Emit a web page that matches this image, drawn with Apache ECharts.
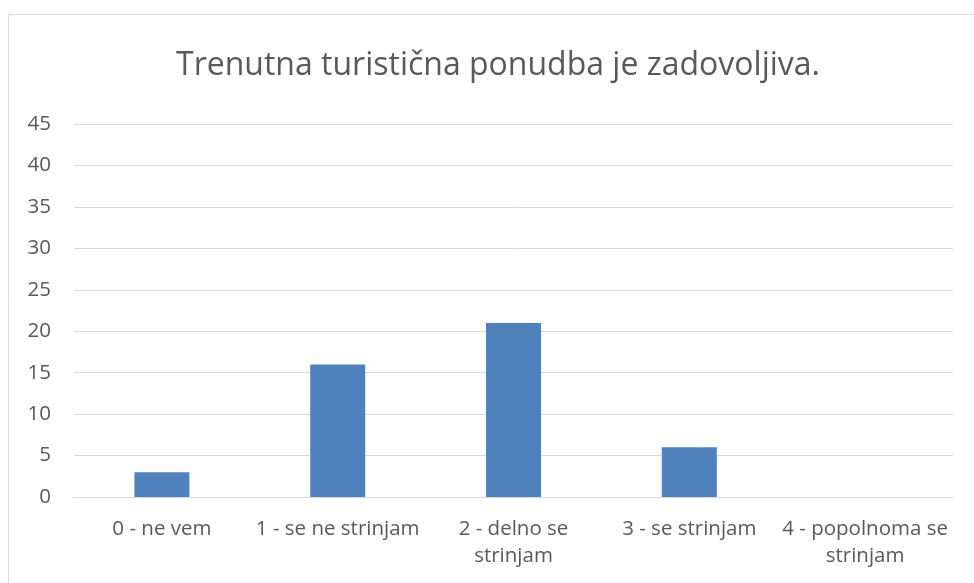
<!DOCTYPE html>
<html>
<head>
<meta charset="utf-8">
<script src="https://cdn.jsdelivr.net/npm/echarts@6/dist/echarts.min.js"></script>
<style>html,body{margin:0;padding:0;background:#fff}#c{width:974px;height:583px}</style>
</head>
<body>
<div id="c"></div>
<script>
const titleText = 'Trenutna turistična ponudba je zadovoljiva.';
const categories = ['0 - ne vem', '1 - se ne strinjam', '2 - delno se\nstrinjam', '3 - se strinjam', '4 - popolnoma se\nstrinjam'];
const values = [3, 16, 21, 6, 0];
const yTicks = {min: 0, max: 45, interval: 5};

const FONT = '"Open Sans", sans-serif';
const chart = echarts.init(document.getElementById('c'), null, {renderer: 'canvas'});
chart.setOption({
  animation: false,
  backgroundColor: '#fff',
  graphic: [{
    type: 'rect', shape: {x: 8.5, y: 14.5, width: 990, height: 600},
    style: {fill: 'none', stroke: '#d9d9d9', lineWidth: 1}, silent: true
  }],
  title: {
    text: titleText, left: 493, top: 45, textAlign: 'center',
    textStyle: {fontFamily: FONT, fontSize: 32, fontWeight: 'normal', color: '#595959'}
  },
  grid: {left: 74, right: 21, top: 124, bottom: 86, containLabel: false},
  xAxis: {
    type: 'category', data: categories,
    axisLine: {show: true, lineStyle: {color: '#d9d9d9', width: 1}},
    axisTick: {show: false},
    axisLabel: {fontFamily: FONT, fontSize: 20.5, color: '#595959', margin: 19, lineHeight: 27, interval: 0}
  },
  yAxis: {
    type: 'value', min: yTicks.min, max: yTicks.max, interval: yTicks.interval,
    axisLine: {show: false}, axisTick: {show: false},
    splitLine: {lineStyle: {color: '#d9d9d9', width: 1}},
    axisLabel: {fontFamily: FONT, fontSize: 20.5, color: '#595959', margin: 23}
  },
  series: [{
    type: 'bar', data: values, barWidth: 55,
    itemStyle: {color: '#4f81bd'}
  }]
});
</script>
</body>
</html>
